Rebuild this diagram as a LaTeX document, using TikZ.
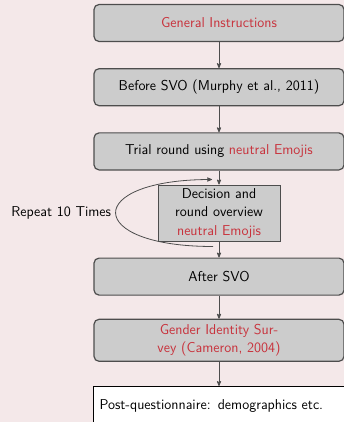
\documentclass[tikz,border=0pt]{standalone}
\usepackage{tikz}
\usetikzlibrary{arrows}
\usetikzlibrary{positioning}
\usetikzlibrary{calc}
\definecolor{slidebg}{RGB}{244,232,233}
\definecolor{boxgray}{RGB}{204,204,204}
\definecolor{boxline}{RGB}{77,77,77}
\definecolor{alertred}{RGB}{200,50,60}
\tikzset{
	stage box/.style={rectangle,rounded corners=5pt,draw=boxline,line width=1.2pt,fill=boxgray,
		minimum width=250pt,minimum height=37pt,align=center},
	loop box/.style={rectangle,draw=boxline,line width=1pt,fill=boxgray,
		minimum width=122pt,minimum height=56pt,align=center,inner sep=2pt},
	last box/.style={rectangle,draw=black,line width=1pt,fill=white,
		text width=250pt,minimum height=38pt,inner sep=6pt,align=left}
}

\begin{document}
\begin{tikzpicture}[x=1pt,y=1pt,->,>=stealth',
            font=\sffamily\fontsize{14.3}{18.5}\selectfont]
            \fill[slidebg] (0,0) rectangle (344,-422);
            \useasboundingbox (0,0) rectangle (344,-422);
            \node [stage box,text=alertred] (1) at (219,-23) {General Instructions};
            \node [stage box,below=26pt of 1] (2) {Before SVO (Murphy et al., 2011)};
            \node [stage box,below=26pt of 2] (3) {Trial round using \textcolor{alertred}{neutral Emojis}};
            \node [loop box,below=14pt of 3] (4) {Decision and\\round overview\\\textcolor{alertred}{neutral Emojis}};
            \node [stage box,below=16pt of 4] (5) {After SVO};
            \node [stage box,minimum height=42pt,inner ysep=4pt,below=23pt of 5,text=alertred] (6) {Gender Identity Sur-\\vey (Cameron, 2004)};
            \node [last box,anchor=north west] (7) at (93,-386) {Post-questionnaire: demographics etc.};
            % connectors
            \draw [boxline,line width=0.8pt] (1) -- (2);
            \draw [boxline,line width=0.8pt] (2) -- (3);
            \draw [boxline,line width=0.8pt] (3) -- (4);
            \draw [boxline,line width=0.8pt] (4) -- (5);
            \draw [boxline,line width=0.8pt] (5) -- (6);
            \draw [boxline,line width=0.8pt] (6.south) -- (6.south |- 7.north);
            % repeat loop
            \draw [boxline,line width=0.8pt] ($(4.south)+(-6,-5)$) .. controls +(-129,0) and +(-129,0) .. ($(4.north)+(-7,5)$)
              node [pos=0.5,left=1pt,text=black] (r) {Repeat 10 Times};
\end{tikzpicture}
\end{document}
